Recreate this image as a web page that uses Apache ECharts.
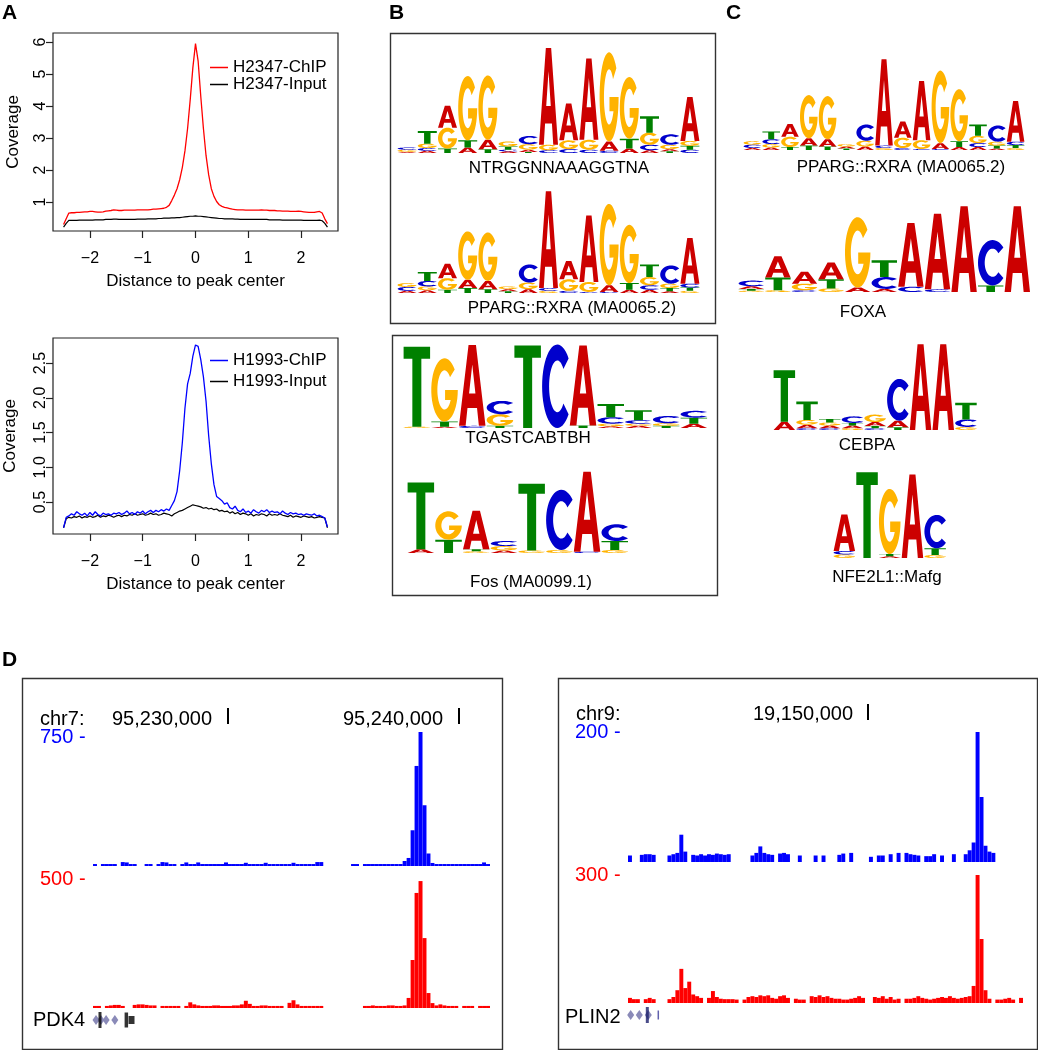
<!DOCTYPE html>
<html><head><meta charset="utf-8">
<script src="https://cdn.jsdelivr.net/npm/echarts@6/dist/echarts.min.js"></script>
<style>html,body{margin:0;padding:0;background:#fff}#c{width:1038px;height:1050px}</style>
</head><body><div id="c"></div>
<script>
const FONT = '"Liberation Sans", Arial, Helvetica, sans-serif';

// ---------- Panel A : coverage profiles (x = -2.5 .. 2.5, step 0.05) ----------
const h2347Chip = [
 0.30,0.48,0.66,0.67,0.67,0.68,0.68,0.69,0.70,0.70,
 0.71,0.71,0.70,0.69,0.69,0.70,0.72,0.73,0.74,0.76,
 0.75,0.74,0.74,0.75,0.75,0.75,0.75,0.75,0.76,0.76,
 0.76,0.76,0.76,0.77,0.78,0.78,0.79,0.80,0.81,0.84,
 0.90,1.05,1.22,1.42,1.70,2.08,2.60,3.30,4.20,5.20,
 5.95,5.40,4.30,3.30,2.45,1.85,1.42,1.18,1.02,0.92,
 0.87,0.84,0.82,0.80,0.78,0.77,0.76,0.76,0.76,0.75,
 0.75,0.75,0.75,0.75,0.75,0.76,0.75,0.75,0.74,0.74,
 0.74,0.73,0.73,0.72,0.72,0.72,0.71,0.71,0.71,0.72,
 0.71,0.70,0.69,0.68,0.68,0.68,0.70,0.71,0.66,0.48,
 0.33];
const h2347Input = [
 0.22,0.34,0.43,0.43,0.43,0.43,0.44,0.44,0.44,0.44,
 0.44,0.44,0.45,0.45,0.45,0.45,0.46,0.46,0.46,0.47,
 0.47,0.46,0.46,0.46,0.46,0.46,0.46,0.46,0.47,0.47,
 0.47,0.47,0.48,0.48,0.48,0.48,0.49,0.49,0.50,0.50,
 0.50,0.51,0.51,0.52,0.52,0.53,0.54,0.55,0.56,0.56,
 0.57,0.56,0.56,0.55,0.54,0.53,0.52,0.51,0.50,0.49,
 0.49,0.48,0.48,0.48,0.48,0.47,0.47,0.46,0.46,0.46,
 0.46,0.46,0.46,0.46,0.46,0.46,0.46,0.46,0.45,0.45,
 0.45,0.45,0.45,0.44,0.44,0.44,0.44,0.44,0.44,0.44,
 0.44,0.43,0.43,0.43,0.43,0.43,0.43,0.44,0.42,0.34,
 0.22];
const h1993Chip = [
 0.13,0.28,0.30,0.33,0.31,0.36,0.33,0.31,0.34,0.30,
 0.35,0.31,0.36,0.32,0.30,0.34,0.32,0.33,0.31,0.34,
 0.33,0.35,0.32,0.34,0.37,0.33,0.35,0.32,0.36,0.34,
 0.37,0.33,0.36,0.38,0.35,0.38,0.36,0.39,0.37,0.40,
 0.38,0.45,0.52,0.65,0.95,1.35,1.85,2.20,2.35,2.60,
 2.76,2.74,2.55,2.30,1.95,1.45,1.05,0.75,0.58,0.55,
 0.52,0.47,0.49,0.42,0.40,0.44,0.38,0.36,0.40,0.35,
 0.37,0.34,0.39,0.36,0.34,0.38,0.36,0.39,0.35,0.37,
 0.35,0.36,0.33,0.37,0.34,0.32,0.35,0.33,0.34,0.32,
 0.33,0.31,0.33,0.32,0.31,0.33,0.30,0.31,0.29,0.27,
 0.14];
const h1993Input = [
 0.13,0.26,0.28,0.27,0.29,0.28,0.30,0.27,0.29,0.28,
 0.30,0.28,0.29,0.31,0.28,0.30,0.29,0.31,0.30,0.28,
 0.30,0.31,0.29,0.31,0.30,0.32,0.31,0.33,0.31,0.32,
 0.33,0.31,0.32,0.34,0.32,0.33,0.31,0.32,0.34,0.33,
 0.32,0.30,0.33,0.35,0.37,0.38,0.40,0.42,0.44,0.46,
 0.45,0.44,0.43,0.41,0.42,0.40,0.41,0.39,0.40,0.37,
 0.38,0.36,0.37,0.34,0.36,0.33,0.35,0.32,0.34,0.33,
 0.31,0.33,0.30,0.32,0.31,0.33,0.32,0.30,0.33,0.31,
 0.32,0.31,0.33,0.31,0.30,0.29,0.31,0.28,0.30,0.29,
 0.28,0.30,0.29,0.28,0.29,0.27,0.28,0.29,0.28,0.27,
 0.13];
const distTicks = [-2, -1, 0, 1, 2];
const topCovTicks = [1, 2, 3, 4, 5, 6];
const botCovTicks = [0.5, 1.0, 1.5, 2.0, 2.5];

// ---------- Panels B, C : motif logos (bits per letter, bottom -> top) ----------
const motifDenovoPPAR = [
 [['A',0.02],['G',0.04],['C',0.04]],
 [['A',0.04],['C',0.05],['G',0.08],['T',0.23]],
 [['T',0.08],['G',0.38],['A',0.40]],
 [['A',0.10],['T',0.13],['G',1.17]],
 [['T',0.07],['A',0.17],['G',1.17]],
 [['A',0.03],['C',0.03],['T',0.06],['G',0.09]],
 [['T',0.02],['A',0.04],['G',0.10],['C',0.15]],
 [['C',0.05],['G',0.10],['A',1.76]],
 [['C',0.07],['G',0.16],['A',0.67]],
 [['C',0.06],['G',0.18],['A',1.48]],
 [['C',0.04],['A',0.17],['G',1.62]],
 [['A',0.08],['T',0.18],['G',1.12]],
 [['A',0.05],['C',0.10],['G',0.22],['T',0.30]],
 [['T',0.03],['A',0.04],['G',0.08],['C',0.19]],
 [['C',0.06],['T',0.07],['G',0.09],['A',0.80]]
];
const motifPPARG_RXRA = [
 [['A',0.04],['C',0.07],['G',0.07]],
 [['A',0.05],['G',0.07],['C',0.10],['T',0.16]],
 [['T',0.06],['G',0.21],['A',0.26]],
 [['T',0.09],['A',0.15],['G',0.88]],
 [['T',0.07],['A',0.15],['G',0.88]],
 [['T',0.03],['A',0.04],['G',0.05]],
 [['A',0.07],['G',0.12],['C',0.33]],
 [['G',0.04],['C',0.05],['A',1.76]],
 [['C',0.04],['G',0.21],['A',0.33]],
 [['C',0.02],['G',0.18],['A',1.21]],
 [['C',0.02],['A',0.12],['G',1.48]],
 [['A',0.06],['T',0.12],['G',1.06]],
 [['A',0.06],['C',0.08],['G',0.15],['T',0.23]],
 [['A',0.03],['T',0.06],['G',0.08],['C',0.33]],
 [['G',0.04],['T',0.06],['C',0.07],['A',0.83]]
];
const motifDenovoAP1 = [
 [['G',0.03],['T',1.86]],
 [['A',0.03],['T',0.12],['G',1.47]],
 [['C',0.05],['A',1.88]],
 [['T',0.05],['G',0.27],['C',0.31]],
 [['T',1.92]],
 [['C',1.94]],
 [['T',0.06],['A',1.86]],
 [['A',0.04],['G',0.06],['C',0.15],['T',0.31]],
 [['A',0.05],['G',0.05],['C',0.08],['T',0.23]],
 [['T',0.05],['G',0.06],['C',0.17]],
 [['A',0.10],['T',0.14],['C',0.16]]
];
const motifFos = [
 [['A',0.09],['T',1.55]],
 [['T',0.31],['G',0.66]],
 [['G',0.04],['T',0.05],['A',0.89]],
 [['A',0.06],['G',0.10],['C',0.12]],
 [['G',0.06],['T',1.55]],
 [['G',0.07],['C',1.40]],
 [['C',0.03],['A',1.86]],
 [['G',0.07],['T',0.21],['C',0.39]]
];
const motifFOXA = [
 [['G',0.03],['T',0.04],['A',0.06],['C',0.13]],
 [['G',0.04],['T',0.29],['A',0.48]],
 [['C',0.04],['G',0.15],['A',0.27]],
 [['G',0.08],['T',0.21],['A',0.38]],
 [['A',0.10],['G',1.60]],
 [['A',0.07],['C',0.27],['T',0.38]],
 [['C',0.12],['A',1.45]],
 [['C',0.06],['A',1.72]],
 [['A',1.95]],
 [['T',0.15],['C',1.03]],
 [['A',1.95]]
];
const motifCEBPA = [
 [['A',0.19],['T',1.17]],
 [['C',0.04],['A',0.08],['G',0.11],['T',0.42]],
 [['C',0.04],['A',0.06],['G',0.07],['T',0.08]],
 [['G',0.04],['A',0.06],['T',0.06],['C',0.15]],
 [['C',0.04],['T',0.05],['A',0.09],['G',0.17]],
 [['T',0.06],['A',0.15],['C',0.95]],
 [['A',1.95]],
 [['A',1.95]],
 [['G',0.07],['C',0.17],['T',0.38]]
];
const motifNFE2L1 = [
 [['G',0.08],['C',0.08],['A',0.83]],
 [['T',1.95]],
 [['A',0.04],['T',0.05],['G',1.48]],
 [['A',1.90]],
 [['G',0.07],['T',0.15],['C',0.76]]
];
const logoNames = ['NTRGGNNAAAGGTNA','PPARG::RXRA (MA0065.2)','TGASTCABTBH','Fos (MA0099.1)',
                   'PPARG::RXRA (MA0065.2)','FOXA','CEBPA','NFE2L1::Mafg'];

// ---------- Panel D : browser tracks (100 bins per region) ----------
const pdk4Chip1993 = [
 11,null,11,11,11,11,null,22,20,11,
 11,null,null,11,11,null,11,22,20,11,
 11,null,11,20,11,11,20,11,11,11,
 11,11,11,20,11,11,11,11,18,11,
 11,11,11,18,11,11,11,11,11,11,
 18,11,11,11,11,11,22,22,null,null,
 null,null,null,null,null,11,11,null,11,11,
 11,11,11,11,11,11,11,11,28,45,
 200,560,750,340,70,17,11,11,11,11,
 11,11,11,11,11,11,11,11,20,11];
const pdk4Chip2347 = [
 8,8,null,8,10,12,12,8,null,null,
 12,14,14,12,10,10,null,8,8,8,
 8,8,null,8,22,14,10,8,8,8,
 10,10,8,8,8,10,10,14,28,16,
 8,8,10,10,8,8,8,8,null,20,
 30,14,8,8,8,8,8,8,null,null,
 null,null,null,null,null,null,null,null,8,8,
 10,8,8,8,10,10,8,8,10,39,
 186,446,492,271,58,19,10,14,10,8,
 8,8,null,8,8,8,null,8,8,8];
const plin2Chip1993 = [
 10,null,null,11,12,12,11,null,null,null,
 10,12,14,42,16,null,11,10,12,10,
 12,11,13,12,11,12,null,null,null,null,
 null,10,14,24,14,12,11,null,13,14,
 12,null,null,10,null,null,null,10,null,10,
 null,null,null,11,13,null,14,null,null,null,
 null,8,null,10,10,null,12,null,14,null,
 14,12,11,10,null,9,9,12,null,10,
 null,null,12,null,null,12,18,30,200,100,
 25,16,14,null,null,null,null,null,null,null];
const plin2Chip2347 = [
 12,9,9,null,9,12,9,null,null,null,
 9,14,30,80,35,50,20,16,12,null,
 12,28,14,10,9,9,9,8,null,8,
 14,16,14,18,16,18,12,10,16,18,
 12,null,10,8,8,null,16,14,18,14,
 16,12,10,10,8,8,10,12,16,12,
 null,null,14,12,16,10,14,8,10,null,
 10,10,12,16,12,10,8,10,12,14,
 12,16,12,10,12,14,16,40,300,150,
 30,10,null,8,8,10,12,8,null,12];
const pdk4Exons = [0.26, 1.5, 2.8, 5.0];
const plin2Exons = [0.18, 2.36, 4.64];

// ---------- glyph outlines for logo letters (unit box 0..100) ----------
function arc(cx, cy, rx, ry, a0, a1) {
  const pts = [], n = 40;
  for (let k = 0; k <= n; k++) {
    const a = (a0 + (a1 - a0) * k / n) * Math.PI / 180;
    pts.push([cx + rx * Math.cos(a), cy - ry * Math.sin(a)]);
  }
  return pts;
}
function poly(pts) { return 'M' + pts.map(p => p[0].toFixed(2) + ' ' + p[1].toFixed(2)).join(' L') + ' Z'; }
const GLYPH = {
  A: 'M0 100 L36 0 L64 0 L100 100 L75 100 L68 78 L32 78 L25 100 Z M38 60 L62 60 L50 24 Z',
  T: 'M0 0 L100 0 L100 15 L67 15 L67 100 L33 100 L33 15 L0 15 Z',
  C: poly(arc(50, 50, 50, 50, 42, 318).concat(arc(50, 50, 27, 31, 318, 42))),
  G: poly(arc(50, 50, 50, 50, 40, 360).concat([[52, 50], [52, 66]], arc(50, 50, 27, 31, 329, 40)))
};
const LETTERS = ['A', 'C', 'G', 'T'];
const LCOLOR = { A: '#CC0000', C: '#0000CC', G: '#FFB300', T: '#008000' };

const chart = echarts.init(document.getElementById('c'), null, { renderer: 'canvas' });

const grids = [], xAxes = [], yAxes = [], series = [];

// Panel A grids
function profilePanel(top, height, yMin, yMax, yTicks, yFmt, nameGapY, labelMarginY, chip, input, names, chipColor) {
  const gi = grids.length;
  grids.push({ left: 53, top: top, width: 285, height: height, show: true, borderColor: '#222', borderWidth: 1.2, backgroundColor: 'transparent' });
  xAxes.push({ gridIndex: gi, type: 'value', min: -2.7, max: 2.7, position: 'bottom',
    axisLine: { show: false, onZero: false }, splitLine: { show: false },
    axisTick: { show: true, length: 7, customValues: distTicks, lineStyle: { color: '#222', width: 1.2 } },
    axisLabel: { customValues: distTicks, margin: 20, fontSize: 16, fontFamily: FONT, color: '#000',
      formatter: v => (v < 0 ? '\u2212' + Math.abs(v) : String(v)) },
    name: 'Distance to peak center', nameLocation: 'middle', nameGap: 42,
    nameTextStyle: { fontSize: 17, fontFamily: FONT, color: '#000' } });
  yAxes.push({ gridIndex: gi, type: 'value', min: yMin, max: yMax, position: 'left',
    axisLine: { show: false, onZero: false }, splitLine: { show: false },
    axisTick: { show: true, length: 7, customValues: yTicks, lineStyle: { color: '#222', width: 1.2 } },
    axisLabel: { customValues: yTicks, rotate: 90, margin: labelMarginY, fontSize: 16, fontFamily: FONT, color: '#000', formatter: yFmt },
    name: 'Coverage', nameLocation: 'middle', nameGap: nameGapY, nameRotate: 90,
    nameTextStyle: { fontSize: 17, fontFamily: FONT, color: '#000' } });
  const xs = chip.map((_, i) => -2.5 + i * 0.05);
  series.push({ name: names[0], type: 'line', xAxisIndex: gi, yAxisIndex: gi, showSymbol: false,
    data: chip.map((v, i) => [xs[i], v]), lineStyle: { color: chipColor, width: 1.3 }, itemStyle: { color: chipColor }, z: 3 });
  series.push({ name: names[1], type: 'line', xAxisIndex: gi, yAxisIndex: gi, showSymbol: false,
    data: input.map((v, i) => [xs[i], v]), lineStyle: { color: '#000', width: 1.2 }, itemStyle: { color: '#000' }, z: 2 });
}
profilePanel(33, 198, 0.1, 6.28, topCovTicks, v => String(v), 31, 4, h2347Chip, h2347Input, ['H2347-ChIP', 'H2347-Input'], '#FF0000');
profilePanel(338, 196, 0.04, 2.86, botCovTicks, v => v.toFixed(1), 34, 4, h1993Chip, h1993Input, ['H1993-ChIP', 'H1993-Input'], '#0000FF');

// Logo grids
function logoPanel(motif, left, colW, baseline, pxPerBit) {
  const gi = grids.length;
  const h = 2 * pxPerBit;
  grids.push({ left: left, top: baseline - h, width: colW * motif.length, height: h });
  xAxes.push({ gridIndex: gi, type: 'category', data: motif.map((_, i) => i), show: false });
  yAxes.push({ gridIndex: gi, type: 'value', min: 0, max: 2, show: false });
  const data = [];
  motif.forEach((col, i) => {
    let acc = 0;
    col.forEach(([L, v]) => { data.push([i, acc, acc + v, LETTERS.indexOf(L)]); acc += v; });
  });
  series.push({ type: 'custom', xAxisIndex: gi, yAxisIndex: gi, clip: false, silent: true,
    encode: { x: 0, y: [1, 2] }, data: data,
    renderItem: function (params, api) {
      const i = api.value(0), y0 = api.value(1), y1 = api.value(2), L = LETTERS[api.value(3)];
      const pb = api.coord([i, y0]), pt = api.coord([i, y1]);
      const w = api.size([1, 0])[0];
      const hh = pb[1] - pt[1];
      if (hh < 0.4) return null;
      return { type: 'path', shape: { pathData: GLYPH[L], x: pb[0] - w / 2 + 0.6, y: pt[1], width: w - 1.2, height: hh, layout: 'cover' },
        style: { fill: LCOLOR[L], stroke: null } };
    } });
}
logoPanel(motifDenovoPPAR, 397, 20.2, 153, 55);
logoPanel(motifPPARG_RXRA, 397, 20.2, 293, 55);
logoPanel(motifDenovoAP1, 403, 27.7, 428, 43);
logoPanel(motifFos, 407, 27.7, 553, 43);
logoPanel(motifPPARG_RXRA, 743, 18.8, 150, 49);
logoPanel(motifFOXA, 738, 26.6, 292, 44);
logoPanel(motifCEBPA, 773, 22.7, 430, 44);
logoPanel(motifNFE2L1, 833, 22.7, 558, 44);

// Browser track grids
function track(values, left, width, baseline, height, maxV, color) {
  const gi = grids.length;
  grids.push({ left: left, top: baseline - height, width: width, height: height });
  xAxes.push({ gridIndex: gi, type: 'category', data: values.map((_, i) => i), show: false });
  yAxes.push({ gridIndex: gi, type: 'value', min: 0, max: maxV, show: false });
  series.push({ type: 'bar', xAxisIndex: gi, yAxisIndex: gi, data: values, barCategoryGap: '0%', silent: true,
    itemStyle: { color: color }, clip: true });
}
track(pdk4Chip1993, 93, 397, 866, 134, 750, '#0000FF');
track(pdk4Chip2347, 93, 397, 1008, 129, 500, '#FF0000');
track(plin2Chip1993, 628, 395, 862, 130, 200, '#0000FF');
track(plin2Chip2347, 628, 395, 1003, 128, 300, '#FF0000');

// Gene model rows
function geneRow(left, width, yc, exons, bars) {
  const gi = grids.length;
  grids.push({ left: left, top: yc - 10, width: width, height: 20 });
  xAxes.push({ gridIndex: gi, type: 'value', min: -0.5, max: 99.5, show: false });
  yAxes.push({ gridIndex: gi, type: 'value', min: 0, max: 1, show: false });
  series.push({ type: 'scatter', xAxisIndex: gi, yAxisIndex: gi, symbol: 'diamond', symbolSize: [7, 10], silent: true,
    data: exons.map(v => [v, 0.5]), itemStyle: { color: '#8A8AB8', opacity: 1 } });
  series.push({ type: 'scatter', xAxisIndex: gi, yAxisIndex: gi, symbol: 'rect', silent: true,
    data: bars.map(b => ({ value: [b[0], 0.5], symbolSize: b[1], itemStyle: { color: b[2] } })) });
}
geneRow(93, 397, 1020, pdk4Exons, [[1.26, [3, 16], '#000'], [7.9, [3.5, 15], '#000'], [9.2, [6, 8], '#000']]);
geneRow(628, 395, 1015, plin2Exons, [[4.39, [3, 16], '#1B1F6B'], [7.17, [1.5, 9], '#3A3A9A']]);

// ---------- static text & frames ----------
function txt(x, y, s, size, opt) {
  opt = opt || {};
  return { type: 'text', x: x, y: y, silent: true, z: 10,
    style: { text: s, fontSize: size, fontFamily: FONT, fontWeight: opt.bold ? 'bold' : 'normal',
      fill: opt.color || '#000', align: opt.align || 'left', verticalAlign: 'middle' } };
}
function box(x, y, w, h) {
  return { type: 'rect', silent: true, z: 10, shape: { x: x + 0.5, y: y + 0.5, width: w, height: h },
    style: { fill: 'transparent', stroke: '#333', lineWidth: 1.4 } };
}
function vtick(x, y1, y2) {
  return { type: 'line', silent: true, z: 10, shape: { x1: x, y1: y1, x2: x, y2: y2 }, style: { stroke: '#000', lineWidth: 2 } };
}
const graphics = [
  txt(2, 13, 'A', 21, { bold: true }),
  txt(389, 13, 'B', 21, { bold: true }),
  txt(726, 13, 'C', 21, { bold: true }),
  txt(2, 660, 'D', 21, { bold: true }),
  box(390, 33, 325, 290),
  box(392, 335, 325, 260),
  txt(559, 168, logoNames[0], 17, { align: 'center' }),
  txt(572, 308, logoNames[1], 17, { align: 'center' }),
  txt(528, 438, logoNames[2], 17, { align: 'center' }),
  txt(531, 582, logoNames[3], 17, { align: 'center' }),
  txt(901, 167, logoNames[4], 17, { align: 'center' }),
  txt(863, 312, logoNames[5], 17, { align: 'center' }),
  txt(867, 445, logoNames[6], 17, { align: 'center' }),
  txt(887, 577, logoNames[7], 17, { align: 'center' }),
  box(22, 678, 480, 371),
  box(558, 678, 479, 371),
  txt(40, 719, 'chr7:', 20),
  txt(112, 719, '95,230,000', 20),
  vtick(228, 708, 724),
  txt(343, 719, '95,240,000', 20),
  vtick(459, 708, 724),
  txt(40, 737, '750 -', 20, { color: '#0000FF' }),
  txt(40, 879, '500 -', 20, { color: '#FF0000' }),
  txt(33, 1020, 'PDK4', 20),
  txt(576, 714, 'chr9:', 20),
  txt(753, 714, '19,150,000', 20),
  vtick(868, 704, 720),
  txt(575, 732, '200 -', 20, { color: '#0000FF' }),
  txt(575, 875, '300 -', 20, { color: '#FF0000' }),
  txt(565, 1017, 'PLIN2', 20)
];

chart.setOption({
  animation: false,
  backgroundColor: '#fff',
  textStyle: { fontFamily: FONT },
  legend: [
    { data: ['H2347-ChIP', 'H2347-Input'], left: 210, top: 59, orient: 'vertical', icon: 'rect',
      itemWidth: 18, itemHeight: 1.5, itemGap: 0, selectedMode: false, padding: 0,
      textStyle: { fontSize: 17, fontFamily: FONT, color: '#000', lineHeight: 17 } },
    { data: ['H1993-ChIP', 'H1993-Input'], left: 210, top: 352, orient: 'vertical', icon: 'rect',
      itemWidth: 18, itemHeight: 1.5, itemGap: 4, selectedMode: false, padding: 0,
      textStyle: { fontSize: 17, fontFamily: FONT, color: '#000', lineHeight: 17 } }
  ],
  grid: grids,
  xAxis: xAxes,
  yAxis: yAxes,
  series: series,
  graphic: { elements: graphics }
});
</script>
</body></html>
